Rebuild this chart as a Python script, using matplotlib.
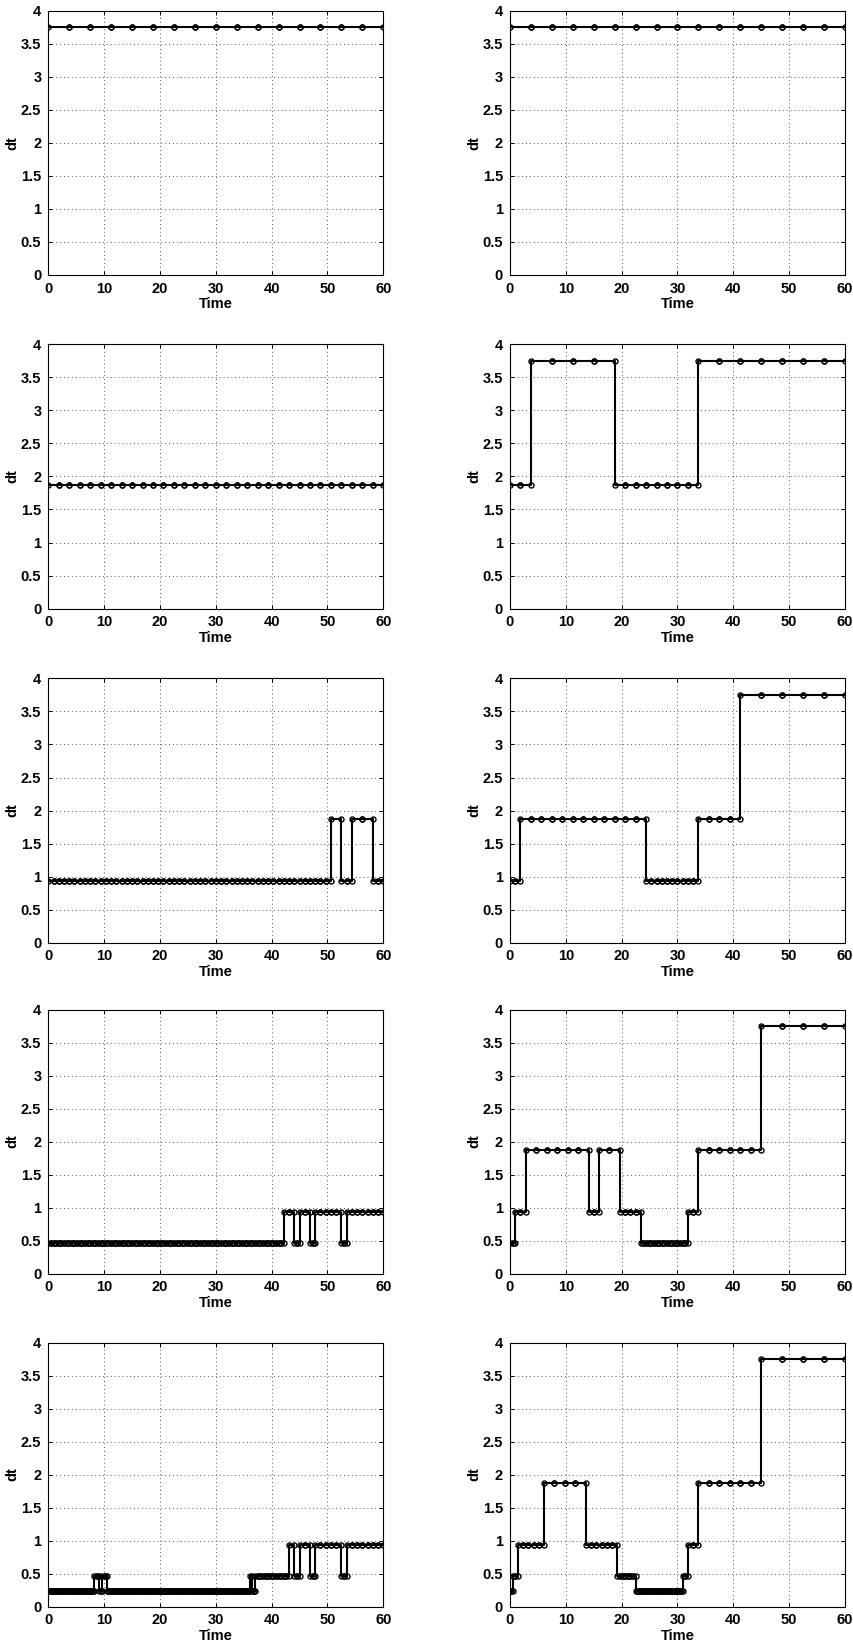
import numpy as np
import matplotlib
matplotlib.use("Agg")
import matplotlib.pyplot as plt
from matplotlib.ticker import FormatStrFormatter

# Step-size history of an adaptive integrator: each run is (dt level, number of steps)
r1l_levels = [3.75]
r1l_counts = [16]
r1r_levels = [3.75]
r1r_counts = [16]

r2l_levels = [1.875]
r2l_counts = [32]
r2r_levels = [1.875, 3.75, 1.875, 3.75]
r2r_counts = [2, 4, 8, 7]

r3l_levels = [0.9375, 1.875, 0.9375, 1.875, 0.9375]
r3l_counts = [54, 1, 2, 2, 2]
r3r_levels = [0.9375, 1.875, 0.9375, 1.875, 3.75]
r3r_counts = [2, 12, 10, 4, 5]

r4l_levels = [0.46875, 0.9375, 0.46875, 0.9375, 0.46875, 0.9375, 0.46875, 0.9375]
r4l_counts = [90, 2, 2, 2, 2, 5, 2, 7]
r4r_levels = [0.46875, 0.9375, 1.875, 0.9375, 1.875, 0.9375, 0.46875, 0.9375, 1.875, 3.75]
r4r_counts = [2, 2, 6, 2, 2, 4, 18, 2, 6, 4]

r5l_levels = [0.234375, 0.46875, 0.234375, 0.46875, 0.234375, 0.46875, 0.234375,
              0.46875, 0.9375, 0.46875, 0.9375, 0.46875, 0.9375, 0.46875, 0.9375]
r5l_counts = [35, 2, 2, 2, 109, 1, 2, 13, 1, 2, 2, 2, 5, 2, 7]
r5r_levels = [0.234375, 0.46875, 0.9375, 1.875, 0.9375, 0.46875, 0.234375,
              0.46875, 0.9375, 1.875, 3.75]
r5r_counts = [2, 2, 5, 4, 6, 7, 36, 2, 2, 6, 4]

panels = [
    [(r1l_levels, r1l_counts), (r1r_levels, r1r_counts)],
    [(r2l_levels, r2l_counts), (r2r_levels, r2r_counts)],
    [(r3l_levels, r3l_counts), (r3r_levels, r3r_counts)],
    [(r4l_levels, r4l_counts), (r4r_levels, r4r_counts)],
    [(r5l_levels, r5l_counts), (r5r_levels, r5r_counts)],
]

x_ticks = [0, 10, 20, 30, 40, 50, 60]
y_ticks = [0, 0.5, 1, 1.5, 2, 2.5, 3, 3.5, 4]

plt.rcParams["font.family"] = ["Liberation Sans", "DejaVu Sans"]
plt.rcParams["font.weight"] = "bold"

FS = 10.5

W, H = 854, 1643
fig = plt.figure(figsize=(W / 100, H / 100), dpi=100)

col_left = [48.3, 510.0]
ax_w = 335.0
ax_h = 264.0
row_top = [10.7, 344.5, 678.5, 1009.5, 1342.5]


def staircase(levels, counts):
    dt = np.repeat(np.asarray(levels, float), counts)
    t = np.concatenate([[0.0], np.cumsum(dt)])
    xs = np.column_stack([t[:-1], t[1:]]).ravel()
    ys = np.repeat(dt, 2)
    return xs, ys


for r in range(5):
    for c in range(2):
        levels, counts = panels[r][c]
        x0 = col_left[c] / W
        y0 = 1 - (row_top[r] + ax_h) / H
        ax = fig.add_axes([x0, y0, ax_w / W, ax_h / H])
        xs, ys = staircase(levels, counts)
        ax.plot(xs, ys, color="black", lw=1.5, marker="o", ms=3.6,
                mfc="none", mec="black", mew=1.0, zorder=3)
        ax.set_xlim(0, 60)
        ax.set_ylim(0, 4)
        ax.set_xticks(x_ticks)
        ax.set_yticks(y_ticks)
        ax.yaxis.set_major_formatter(FormatStrFormatter("%g"))
        ax.grid(True, linestyle=(0, (1, 3)), color="#555555", linewidth=0.7)
        ax.tick_params(direction="in", top=True, right=True, length=3,
                       width=0.7, pad=5, labelsize=FS)
        for sp in ax.spines.values():
            sp.set_linewidth(0.8)
        ax.set_xlabel("Time", fontweight="bold", fontsize=FS)
        ax.set_ylabel("dt", fontweight="bold", fontsize=FS)
        ax.xaxis.set_label_coords(0.5, -0.085)
        ax.yaxis.set_label_coords(-0.085, 0.5)

fig.savefig("out.png", dpi=100)
